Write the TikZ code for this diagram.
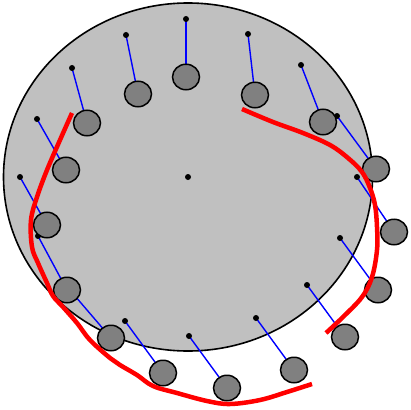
\documentclass[tikz,border=0pt]{standalone}
\usetikzlibrary{shapes.geometric}
\pgfdeclarelayer{background}
\pgfsetlayers{background,main}
\definecolor{disc}{RGB}{192,192,192}
\definecolor{beadfill}{RGB}{128,128,128}
\tikzset{
  bigdisc/.style={draw=black, fill=disc, line width=1.6pt},
  dotpt/.style={circle, fill=black, inner sep=0pt, minimum size=6pt},
  bead/.style={ellipse, draw=black, fill=beadfill, line width=1.5pt, inner sep=0pt, minimum width=27pt, minimum height=25.5pt},
  link/.style={draw=blue, line width=1.4pt},
  redline/.style={draw=red, line width=4.5pt, line join=round, rounded corners=0pt}
}
\begin{document}
\begin{tikzpicture}[x=1pt, y=-1pt]
\useasboundingbox (0,0) rectangle (411,409);
\coordinate (c) at (188,177);
% dots
\node[dotpt] (d1) at (186,19) {};
\node[dotpt] (d2) at (248,34) {};
\node[dotpt] (d3) at (301,65) {};
\node[dotpt] (d4) at (337,116) {};
\node[dotpt] (d5) at (357,177) {};
\node[dotpt] (d6) at (340,238) {};
\node[dotpt] (d7) at (307,285) {};
\node[dotpt] (d8) at (256,318) {};
\node[dotpt] (d9) at (189,336) {};
\node[dotpt] (d10) at (125,321) {};
\node[dotpt] (d11) at (69,289) {};
\node[dotpt] (d12) at (38,236) {};
\node[dotpt] (d13) at (20,177) {};
\node[dotpt] (d14) at (37,119) {};
\node[dotpt] (d15) at (72,68) {};
\node[dotpt] (d16) at (126,35) {};
\node[dotpt] (dc) at (c) {};
% beads
\node[bead] (b1) at (186,77) {};
\node[bead] (b2) at (255,95) {};
\node[bead] (b3) at (323,122) {};
\node[bead] (b4) at (376,169) {};
\node[bead] (b5) at (394,232) {};
\node[bead] (b6) at (378,290) {};
\node[bead] (b7) at (345,337) {};
\node[bead] (b8) at (294,370) {};
\node[bead] (b9) at (227,388) {};
\node[bead] (b10) at (163,373) {};
\node[bead] (b11) at (111,338) {};
\node[bead] (b12) at (67,290) {};
\node[bead] (b13) at (47,225) {};
\node[bead] (b14) at (66,170) {};
\node[bead] (b15) at (87,123) {};
\node[bead] (b16) at (138,94) {};
\begin{pgfonlayer}{background}
  \draw[bigdisc] (c) ellipse [x radius=184.5, y radius=174];
  \foreach \i in {1,...,16} { \draw[link] (d\i.center) -- (b\i.center); }
\end{pgfonlayer}
% red curves
\draw[redline] plot[smooth, tension=0.6] coordinates {
  (72,113) (60,140) (47,170) (37,197) (31,220) (32,247) (38,263) (47,283) (53,296)
  (63,307) (77,323) (90,340) (110,358) (120,365) (137,375) (153,386) (177,393)
  (207,401) (230,404) (260,400) (287,392) (312,384)};
\draw[redline] plot[smooth, tension=0.6] coordinates {
  (242,109) (273,122) (303,133) (330,145) (348,158) (362,172) (370,188) (375,205)
  (377,227) (377,250) (372,277) (362,297) (343,317) (326,333)};
\end{tikzpicture}
\end{document}
